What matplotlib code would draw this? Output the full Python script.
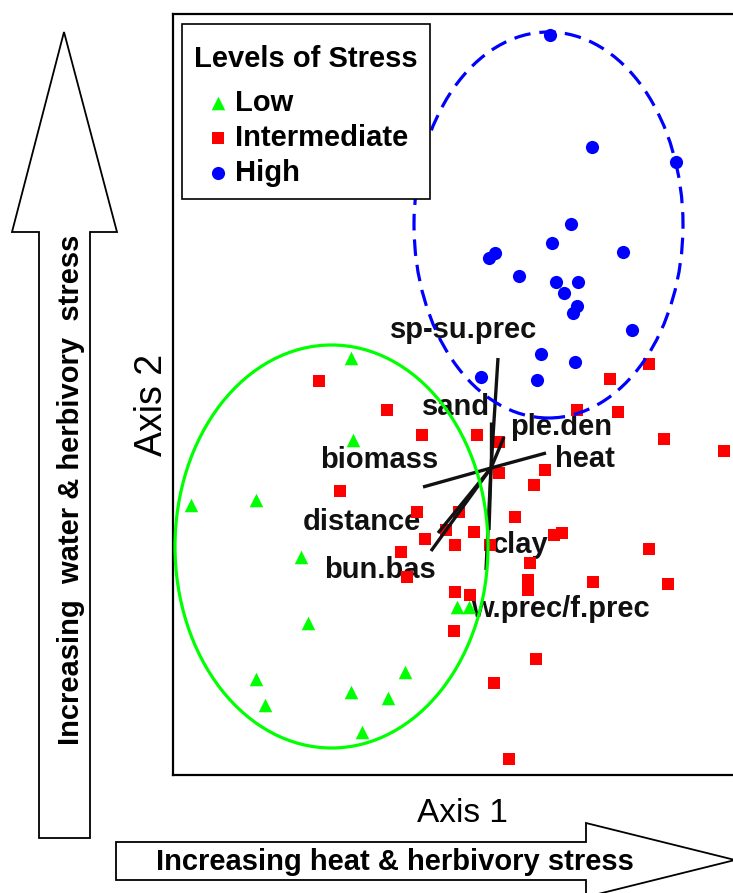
import matplotlib
matplotlib.use("Agg")
import matplotlib.pyplot as plt
from matplotlib.patches import Ellipse, Polygon

plt.rcParams['font.family'] = ['Liberation Sans', 'DejaVu Sans']

# Site scores on the two ordination axes, grouped by stress level
low_x = [-0.70, -0.69, -1.50, -1.175, -0.95, -0.915, -1.175, -1.13, -0.70, -0.515, -0.43, -0.645, -0.17, -0.11]
low_y = [0.55, 0.14, -0.185, -0.16, -0.445, -0.775, -1.055, -1.185, -1.12, -1.15, -1.02, -1.32, -0.695, -0.695]

mid_x = [-0.86, -0.52, -0.345, -0.07, 0.04, -0.755, -0.37, -0.16, -0.225, -0.085, -0.33, -0.18, -0.45,
         -0.42, -0.18, -0.105, -0.185, 0.015, 0.79, 0.595, 0.43, 0.635, 0.865, 1.165, 0.27, 0.04, 0.215,
         0.12, 0.315, 0.355, 0.79, 0.195, 0.185, 0.185, 0.51, 0.885, 0.225, 0.09, -0.005]
mid_y = [0.435, 0.29, 0.165, 0.165, 0.13, -0.115, -0.22, -0.22, -0.31, -0.32, -0.355, -0.385, -0.42,
         -0.545, -0.62, -0.635, -0.815, -1.075, 0.52, 0.445, 0.29, 0.28, 0.145, 0.085, -0.01, -0.025, -0.085,
         -0.245, -0.335, -0.325, -0.405, -0.475, -0.56, -0.61, -0.57, -0.58, -0.955, -1.455, -0.385]

high_x = [0.295, 0.505, 0.925, 0.40, 0.305, 0.02, -0.01, 0.14, 0.66, 0.325, 0.435, 0.365, 0.43, 0.41,
          0.705, 0.25, 0.42, -0.05, 0.23]
high_y = [2.165, 1.605, 1.53, 1.22, 1.125, 1.075, 1.05, 0.96, 1.08, 0.93, 0.93, 0.875, 0.81, 0.775,
          0.69, 0.57, 0.53, 0.455, 0.44]

# Environmental vectors (end points from the origin)
env_names = ['sp-su.prec', 'sand', 'ple.den', 'heat', 'biomass', 'distance', 'bun.bas', 'clay', 'w.prec/f.prec']
env_x = [0.035, 0.0, 0.065, 0.275, -0.34, -0.265, -0.30, -0.01, -0.025]
env_y = [0.55, 0.23, 0.155, 0.075, -0.095, -0.325, -0.415, -0.31, -0.51]

# Label anchors (left edge, baseline) for each vector
env_lab_x = [-0.505, -0.345, 0.095, 0.32, -0.855, -0.94, -0.835, 0.005, -0.10]
env_lab_y = [0.65, 0.265, 0.165, 0.005, 0.0, -0.31, -0.55, -0.425, -0.745]

# Group ellipses: centre x, centre y, width, height
low_ell = (-0.7975, -0.3925, 1.565, 2.015)
high_ell = (0.2875, 1.215, 1.345, 1.93)

GREEN, RED, BLUE = '#00ff00', '#ff0000', '#0000ff'
FS = 21

fig = plt.figure(figsize=(7.33, 8.93), dpi=100)

# Page-level overlay in pixel units for the big direction arrows
ov = fig.add_axes([0, 0, 1, 1], zorder=-1)
ov.set_xlim(0, 733)
ov.set_ylim(893, 0)
ov.axis('off')

up_arrow = Polygon([(39, 838), (90, 838), (90, 232), (117, 232), (64, 32), (12, 232), (39, 232)],
                   closed=True, facecolor='white', edgecolor='black', lw=1.3)
ov.add_patch(up_arrow)
right_arrow = Polygon([(116, 842), (586, 842), (586, 823), (735, 860), (586, 897), (586, 880), (116, 880)],
                      closed=True, facecolor='white', edgecolor='black', lw=1.3)
ov.add_patch(right_arrow)
ov.text(79, 490, 'Increasing  water & herbivory  stress', rotation=90, rotation_mode='anchor',
        ha='center', va='baseline', fontsize=FS, fontweight='bold')
ov.text(395, 870, 'Increasing heat & herbivory stress', ha='center', va='baseline',
        fontsize=FS, fontweight='bold')
ov.text(462, 822, 'Axis 1', ha='center', va='baseline', fontsize=24)
ov.text(162, 405, 'Axis 2', rotation=90, rotation_mode='anchor', ha='center', va='baseline', fontsize=27)

# Main ordination panel
ax = fig.add_axes([173 / 733, 118 / 893, 572 / 733, 761 / 893])
ax.set_xlim(-1.59, 1.27)
ax.set_ylim(-1.535, 2.27)
ax.set_xticks([])
ax.set_yticks([])
for sp in ax.spines.values():
    sp.set_linewidth(1.6)

for name, lx, ly in zip(env_names, env_lab_x, env_lab_y):
    ax.text(lx, ly, name, ha='left', va='baseline', fontsize=FS, fontweight='bold',
            color='#111111', zorder=1)

h_low = ax.scatter(low_x, low_y, marker='^', s=95, color=GREEN, linewidths=0, zorder=3, label='Low')
h_mid = ax.scatter(mid_x, mid_y, marker='s', s=80, color=RED, linewidths=0, zorder=3, label='Intermediate')
h_high = ax.scatter(high_x, high_y, marker='o', s=90, color=BLUE, linewidths=0, zorder=3, label='High')

for ex, ey in zip(env_x, env_y):
    ax.plot([0, ex], [0, ey], color='#111111', lw=2.4, solid_capstyle='butt', zorder=4)

cx, cy, w, h = low_ell
ax.add_patch(Ellipse((cx, cy), w, h, fill=False, edgecolor=GREEN, lw=2.3, zorder=5))
cx, cy, w, h = high_ell
ax.add_patch(Ellipse((cx, cy), w, h, fill=False, edgecolor=BLUE, lw=2.3,
                     linestyle=(0, (5.2, 2.8)), zorder=5))

leg = ax.legend(handles=[h_low, h_mid, h_high], title='Levels of Stress', loc='upper left',
                bbox_to_anchor=(9 / 572, 1 - 10 / 761), borderaxespad=0, fancybox=False,
                framealpha=1, edgecolor='black', fontsize=FS,
                title_fontproperties={'size': FS, 'weight': 'bold'},
                handlelength=1.64, handletextpad=-0.25, labelspacing=0.25, borderpad=0.42,
                alignment='left', scatterpoints=1, markerscale=1.0)
leg.get_frame().set_linewidth(1.2)
for t in leg.get_texts():
    t.set_fontweight('bold')
# extra room between the title and the entries, title nudged down
leg._legend_box.sep = 17.5
leg._legend_title_box._text.set_y(-9)
leg.set_zorder(6)

fig.savefig('out.png', dpi=100)
